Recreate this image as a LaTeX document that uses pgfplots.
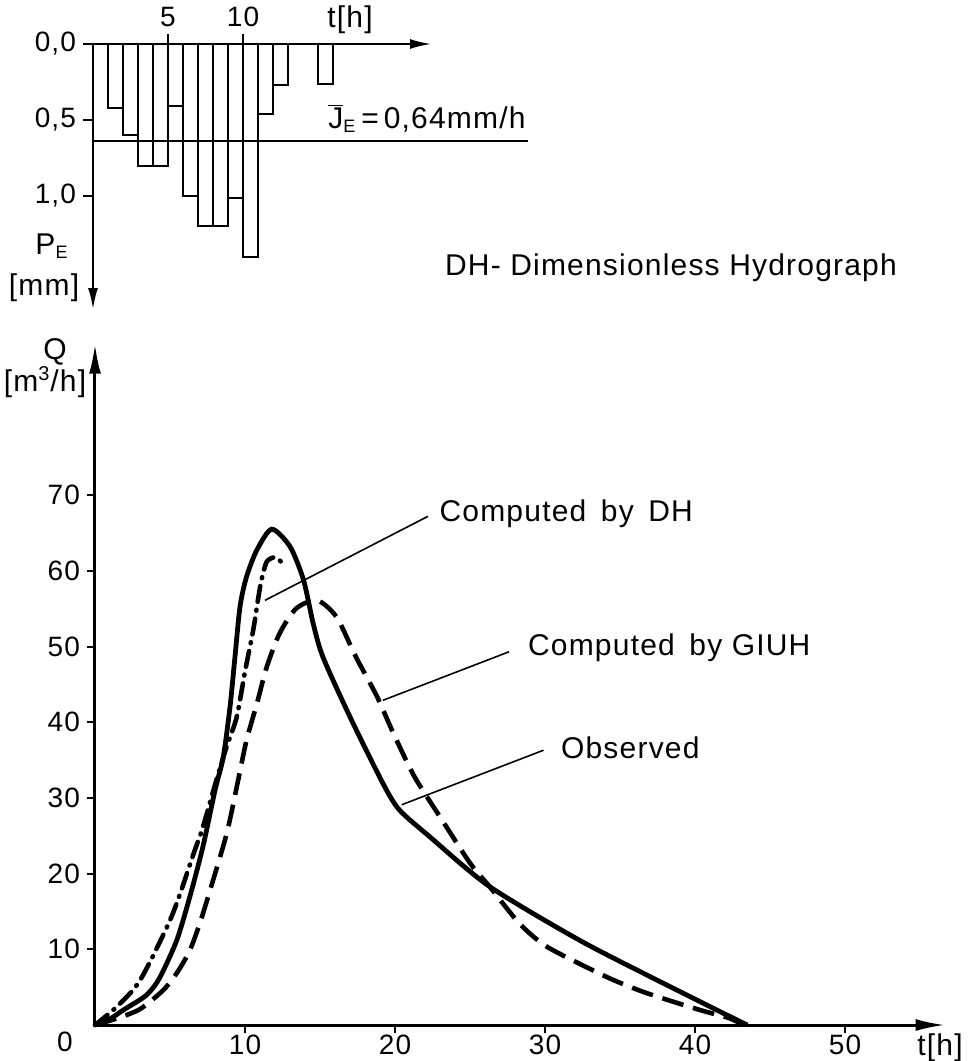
\documentclass[border=0pt]{standalone}
\usepackage{fontspec}
\setmainfont{Liberation Sans}[LetterSpace=4.0]
\usepackage{pgfplots}
\pgfplotsset{compat=1.18}
\usetikzlibrary{arrows.meta}
\newcommand\lf{\fontsize{15}{18}\selectfont}
\newcommand\tf{\fontsize{14}{17}\selectfont}
\begin{document}
\begin{tikzpicture}[x=1pt,y=1pt]
\useasboundingbox (0pt,0pt) rectangle (488pt,-530.5pt);
% ---------- top: effective rainfall ----------
\begin{axis}[
  at={(46.5pt,-22pt)}, anchor=north west,
  x=7.5pt, y=76pt, y dir=reverse,
  xmin=0, xmax=22.6, ymin=0, ymax=1.75,
  axis x line=top, axis y line=left,
  axis line style={line width=1.3pt, -{Latex[length=11pt,width=5pt]}},
  xtick={5,10}, ytick={0,0.5,1},
  tick style={line width=1pt, black},
  major tick length=5pt, tick align=outside,
  ticklabel style={font=\tf},
  /pgf/number format/assume math mode=true,
  yticklabel style={/pgf/number format/.cd, use comma, fixed, fixed zerofill, precision=1},
  clip=false,
]
\addplot[ybar interval, line width=1pt, draw=black, fill=none] coordinates {
 (1,0.42) (2,0.60) (3,0.80) (4,0.80) (5,0.41) (6,1.00) (7,1.20) (8,1.20)
 (9,1.01) (10,1.40) (11,0.46) (12,0.27) (13,0.27)};
\addplot[ybar interval, line width=1pt, draw=black, fill=none] coordinates {
 (15,0.26) (16,0.26)};
\addplot[line width=1pt] coordinates {(0,0.64) (29,0.64)};
\node[anchor=south east, font=\lf, inner sep=1pt] at (axis cs:29,0.60)
  {$\overline{\hbox{J}}_{\hbox{\fontsize{9}{9}\selectfont E}}$\,=\,0,64mm/h};
\end{axis}
% ---------- bottom: hydrographs ----------
\begin{axis}[
  at={(47.5pt,-512.5pt)}, anchor=south west,
  x=7.5pt, y=3.785pt,
  xmin=0, xmax=56.7, ymin=0, ymax=90,
  axis lines=left,
  axis line style={line width=1.5pt, -{Latex[length=15pt,width=6pt]}},
  xtick={10,20,30,40,50}, ytick={10,20,30,40,50,60,70},
  tick style={line width=1pt, black},
  major tick length=4pt, tick align=outside,
  ticklabel style={font=\tf},
  xticklabel style={yshift=2.5pt},
  /pgf/number format/assume math mode=true,
  clip=false,
]
% Observed
\addplot[line width=2.4pt, smooth, tension=0.45] coordinates {
 (0,0) (1,0.8) (1.9,2) (3.4,3.9) (4.3,6.2) (5.45,11.2) (6.33,17) (7.2,23.6)
 (8.0,31) (8.55,35.4) (9.0,42) (9.33,48.6) (9.67,55.3) (10.1,59.2) (10.78,62.7)
 (11.78,65.5) (13.0,63.2) (13.9,58.8) (14.55,53) (15.2,48.6) (17,40.7)
 (19.2,31.9) (20.3,28.4) (22.3,24.9) (26.3,18.3) (32.3,11.2) (37.9,5.5)
 (42.8,0.66) (43.5,0)};
% Computed by GIUH
\addplot[line width=2.3pt, smooth, tension=0.45, dash pattern=on 11pt off 5pt] coordinates {
 (0,0) (1.5,0.9) (3,2.1) (4.55,4.6) (5.5,7) (6.33,9.9) (7.0,13.5) (7.67,17.8)
 (8.78,25.3) (9.55,32.4) (10.1,37.6) (10.8,42.5) (11.45,47.3) (12.3,51.7)
 (13.4,55) (14.8,56.1) (16.1,53.9) (17.4,48.6) (18.8,43.4) (19.9,38.5)
 (21.3,32.8) (23,27.5) (25,21.4) (26.3,18.3) (28.3,13.4) (30,10.5)
 (32.3,8.1) (34.5,6) (36.8,4.2) (40.3,2) (42.3,0.9) (43.2,0)};
% Computed by DH
\addplot[line width=2.3pt, smooth, tension=0.45, line cap=round,
  dash pattern=on 8pt off 4pt on 0.5pt off 4pt] coordinates {
 (0,0) (1.44,2.4) (3.0,5.9) (5.1,14.3) (6.55,22.5) (7.2,26.2) (8.1,32.4)
 (8.78,36.8) (9.45,40.7) (10.0,46.7) (10.55,52.2) (10.9,56.6) (11.1,58.8)
 (11.45,61.2) (12.0,61.8) (12.4,61.2)};
% leader lines
\draw[line width=0.8pt] (axis cs:11.33,56.1) -- (axis cs:22.2,67.2);
\draw[line width=0.8pt] (axis cs:19.2,42.9) -- (axis cs:27.6,49.3);
\draw[line width=0.8pt] (axis cs:20.45,29.1) -- (axis cs:29.9,36.3);
\node[anchor=west, font=\lf] at (axis cs:22.5,67.6) {Computed \,by \,DH};
\node[anchor=west, font=\lf] at (axis cs:28.4,49.9) {Computed \,by GIUH};
\node[anchor=west, font=\lf] at (axis cs:30.6,36.6) {Observed};
\end{axis}
% free labels
\node[font=\lf] at (175pt,-10pt) {t[h]};
\node[font=\lf] at (26pt,-123pt) {P$_{\hbox{\fontsize{9}{9}\selectfont E}}$};
\node[font=\lf] at (22pt,-144pt) {[mm]};
\node[anchor=west, font=\lf] at (219pt,-134pt) {DH- Dimensionless Hydrograph};
\node[font=\lf] at (27.5pt,-176pt) {Q};
\node[font=\lf] at (22.5pt,-191pt) {[m$^{\hbox{\fontsize{10}{10}\selectfont 3}}$/h]};
\node[font=\tf] at (32.5pt,-521pt) {0};
\node[font=\lf] at (470pt,-524pt) {t[h]};
\end{tikzpicture}
\end{document}
